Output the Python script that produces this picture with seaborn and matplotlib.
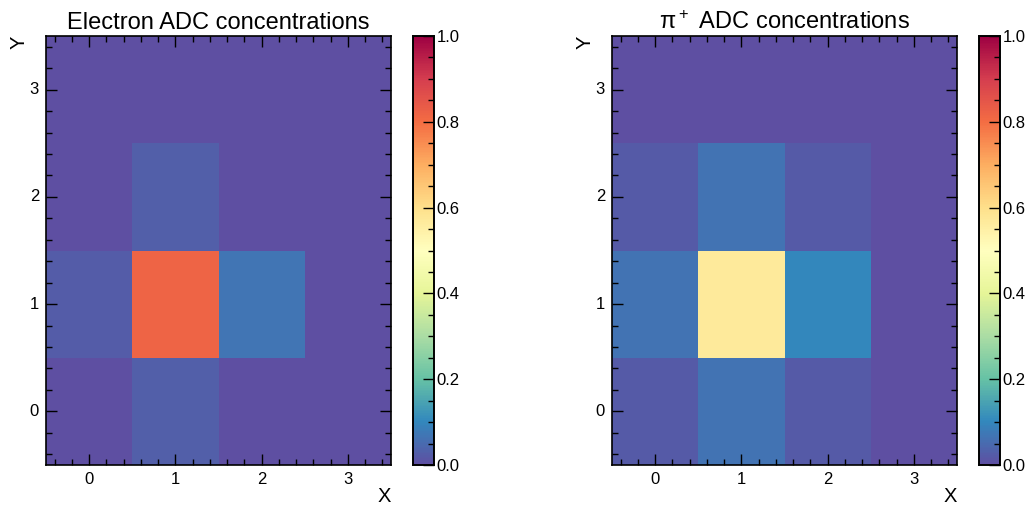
import matplotlib
matplotlib.use("Agg")
import matplotlib.pyplot as plt
import numpy as np
import pandas as pd
import seaborn as sns
from matplotlib.ticker import AutoMinorLocator, MultipleLocator

sns.set_style("white")
plt.rcParams.update({
    "font.family": ["Liberation Sans", "DejaVu Sans"],
    "mathtext.default": "regular",
    "axes.axisbelow": False,
    "text.color": "black",
    "axes.labelcolor": "black",
    "xtick.color": "black",
    "ytick.color": "black",
    "xtick.direction": "in",
    "ytick.direction": "in",
    "xtick.major.size": 8,
    "ytick.major.size": 8,
    "xtick.minor.size": 4,
    "ytick.minor.size": 4,
    "xtick.major.width": 1.0,
    "ytick.major.width": 1.0,
    "xtick.minor.width": 1.0,
    "ytick.minor.width": 1.0,
    "xtick.major.pad": 5,
    "ytick.major.pad": 5,
    "xtick.labelsize": 12,
    "ytick.labelsize": 12,
})

# 4x4 grid, rows = Y (0 at bottom), columns = X
x_bins = [0, 1, 2, 3]
y_bins = [0, 1, 2, 3]

electron_row0 = [0.0, 0.03, 0.0, 0.0]
electron_row1 = [0.025, 0.82, 0.07, 0.0]
electron_row2 = [0.0, 0.03, 0.0, 0.0]
electron_row3 = [0.0, 0.0, 0.0, 0.0]

pion_row0 = [0.02, 0.065, 0.02, 0.0]
pion_row1 = [0.065, 0.57, 0.10, 0.0]
pion_row2 = [0.02, 0.065, 0.02, 0.0]
pion_row3 = [0.0, 0.0, 0.0, 0.0]

electron = pd.DataFrame([electron_row0, electron_row1, electron_row2, electron_row3],
                        index=y_bins, columns=x_bins)
pion = pd.DataFrame([pion_row0, pion_row1, pion_row2, pion_row3],
                    index=y_bins, columns=x_bins)

fig = plt.figure(figsize=(10.30, 5.09), dpi=100)
W, H = 1030, 509


def px_axes(x0, x1, y0, y1):
    return fig.add_axes([x0 / W, 1 - y1 / H, (x1 - x0) / W, (y1 - y0) / H])


def frame(ax):
    ax.set_axisbelow(False)
    for sp in ax.spines.values():
        sp.set_visible(True)
        sp.set_linewidth(1.2)
        sp.set_color("black")
        sp.set_zorder(5)


panels = [
    (electron, "Electron ADC concentrations", 46, 391, 413, 434),
    (pion, r"$\pi^+$ ADC concentrations", 612, 957, 979, 1000),
]

for df, title, ax0, ax1, cb0, cb1 in panels:
    ax = px_axes(ax0, ax1, 36, 465)
    cax = px_axes(cb0, cb1, 36, 465)
    sns.heatmap(df, ax=ax, cbar_ax=cax, cmap="Spectral_r", vmin=0, vmax=1,
                square=False, linewidths=0)
    ax.set_ylim(0, 4)
    ax.set_xlim(0, 4)
    ax.set_xticks(np.arange(4) + 0.5)
    ax.set_xticklabels([str(v) for v in x_bins], rotation=0)
    ax.set_yticks(np.arange(4) + 0.5)
    ax.set_yticklabels([str(v) for v in y_bins], rotation=0)
    ax.xaxis.set_minor_locator(AutoMinorLocator(5))
    ax.yaxis.set_minor_locator(AutoMinorLocator(5))
    ax.tick_params(which="both", direction="in", top=True, right=True,
                   bottom=True, left=True, labeltop=False, labelright=False)
    ax.tick_params(which="major", length=8)
    ax.tick_params(which="minor", length=4)
    frame(ax)
    ax.set_title(title, fontsize=17, pad=5)
    ax.set_xlabel("X", fontsize=14.5, loc="right", labelpad=0)
    ax.set_ylabel("Y", fontsize=14.5, loc="top", labelpad=1)

    cax.set_yticks([0.0, 0.2, 0.4, 0.6, 0.8, 1.0])
    cax.set_yticklabels(["0.0", "0.2", "0.4", "0.6", "0.8", "1.0"])
    cax.yaxis.set_minor_locator(MultipleLocator(0.05))
    cax.tick_params(which="both", direction="in", left=False, right=True,
                    labelleft=False, labelright=True)
    cax.tick_params(which="major", length=8, pad=2)
    cax.tick_params(which="minor", length=4)
    frame(cax)

fig.savefig("out.png", dpi=100)
